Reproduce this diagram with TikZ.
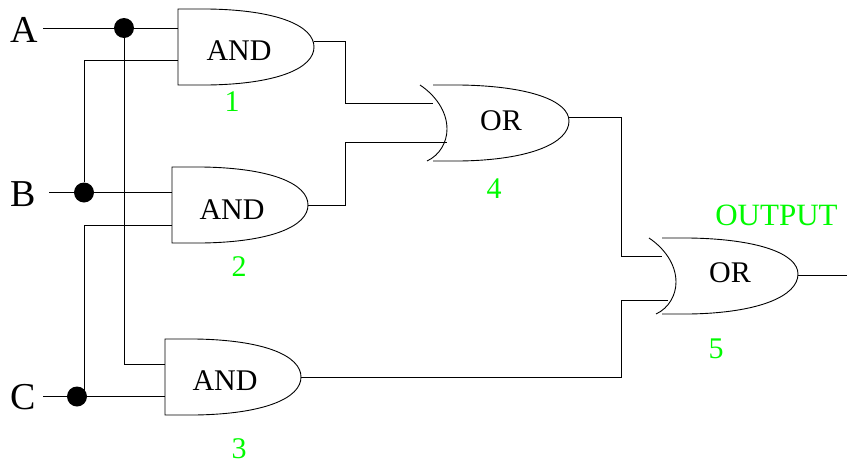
\documentclass[tikz,border=0pt]{standalone}
\usepackage{fontspec}
\setmainfont{Liberation Serif}
\definecolor{lbl}{RGB}{0,250,0}
\tikzset{
 wire/.style={draw=black,line width=1pt},
 outl/.style={draw=black,line width=0.9pt},
 dotn/.style={circle,fill=black,inner sep=0pt,minimum size=20pt},
 gatetxt/.style={font=\fontsize{30}{30}\selectfont,inner sep=0pt,text=black},
 lab/.style={font=\fontsize{38}{38}\selectfont,inner sep=0pt,text=black},
 num/.style={font=\fontsize{30}{30}\selectfont,inner sep=0pt,text=lbl},
}
\begin{document}
\begin{tikzpicture}[x=1pt,y=-1pt,line join=miter]
\useasboundingbox (0,0) rectangle (847,461);
\def\AndG#1#2#3#4{%
 \begin{scope}[shift={(#2,#3)}]
 \draw[outl] (0,0) -- (30,0) .. controls (100,1) and (136,17) .. (136,38) .. controls (136,59) and (100,75) .. (30,76) -- (0,76) -- cycle;
 \coordinate (#1o) at (136,#4);
 \end{scope}}
\def\OrG#1#2#3#4{%
 \begin{scope}[shift={(#2,#3)}]
 \draw[outl] (0,0) .. controls (15,10) and (27,26) .. (27,44) .. controls (27,57) and (20,70) .. (7,76);
 \draw[outl] (13,0) -- (40,0) .. controls (110,1) and (149,16) .. (149,36) .. controls (149,58) and (110,75) .. (40,76) -- (13,76);
 \coordinate (#1o) at (149,#4);
 \end{scope}}
\AndG{g1}{178}{9}{32}
\AndG{g2}{172}{167}{38}
\AndG{g3}{165}{339}{38}
\OrG{g4}{420}{85}{32}
\OrG{g5}{649}{238}{37}
\node[gatetxt] (t1) at (239,50.5) {AND};
\node[gatetxt] (t2) at (232,209.5) {AND};
\node[gatetxt] (t3) at (225,380.5) {AND};
\node[gatetxt] (t4) at (501,120.5) {OR};
\node[gatetxt] (t5) at (730,272.5) {OR};
\node[lab] (A) at (24,30) {A};
\node[lab] (B) at (23,194) {B};
\node[lab] (C) at (23,397) {C};
\node[num] (n1) at (232,102) {1};
\node[num] (n2) at (239,267) {2};
\node[num] (n3) at (239,448.5) {3};
\node[num] (n4) at (494,189) {4};
\node[num] (n5) at (716,348.5) {5};
\node[num,font=\fontsize{31}{31}\selectfont] (out) at (776.5,215) {OUTPUT};
\node[dotn] (d1) at (124,28) {};
\node[dotn] (d2) at (84,192.5) {};
\node[dotn] (d3) at (77,396.5) {};
\coordinate (a0) at (43,28);
\coordinate (b0) at (49,192.5);
\coordinate (c0) at (43,396.5);
\coordinate (a1) at (178,28);
\coordinate (a2) at (178,60);
\coordinate (b1) at (172,192.5);
\coordinate (b2) at (172,225);
\coordinate (c1) at (165,364);
\coordinate (c2) at (165,396.5);
\draw[wire] (a0) -- (a1);
\draw[wire] (b0) -- (b1);
\draw[wire] (c0) -- (c2);
\draw[wire] (d1) -- (124,364) -- (c1);
\draw[wire] (d2) -- (84,60) -- (a2);
\draw[wire] (84,396.5) -- (84,225) -- (b2);
\draw[wire] (g1o) -- (345.5,41) -- (345.5,103.5) -- (433,103.5);
\draw[wire] (g2o) -- (345.5,205) -- (345.5,142) -- (447,142);
\draw[wire] (g4o) -- (621.5,117) -- (621.5,256.5) -- (662,256.5);
\draw[wire] (g3o) -- (621.5,377) -- (621.5,300) -- (668,300);
\draw[wire] (g5o) -- (847,275);
\end{tikzpicture}
\end{document}
